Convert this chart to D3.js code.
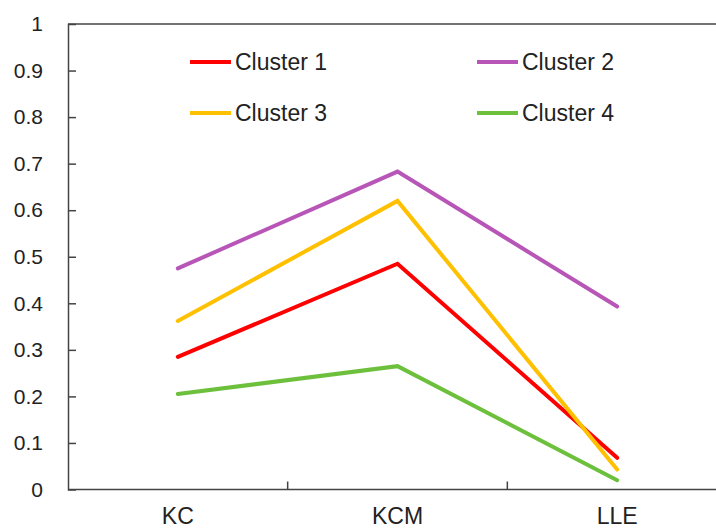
<!DOCTYPE html>
<html>
<head>
<meta charset="utf-8">
<script src="https://cdn.jsdelivr.net/npm/d3@7"></script>
<style>
  body { margin: 0; background: #fff; }
  text { font-family: "Liberation Sans", Arial, sans-serif; fill: #222; }
</style>
</head>
<body>
<svg width="716" height="530"></svg>
<script>
// chart data
var categories = ["KC", "KCM", "LLE"];
var seriesNames = ["Cluster 1", "Cluster 2", "Cluster 3", "Cluster 4"];
var cluster1 = [0.285, 0.485, 0.068];
var cluster2 = [0.475, 0.683, 0.393];
var cluster3 = [0.362, 0.620, 0.043];
var cluster4 = [0.205, 0.265, 0.020];
var yTicks = [0, 0.1, 0.2, 0.3, 0.4, 0.5, 0.6, 0.7, 0.8, 0.9, 1];

var colors = ["#ff0000", "#b856b8", "#ffc000", "#6cc03c"];
var series = [cluster1, cluster2, cluster3, cluster4];

var svg = d3.select("svg");

// plot area (the right edge runs past the picture)
var plotLeft = 68, plotRight = 727, plotTop = 24, plotBottom = 489.5;

var x = d3.scaleBand().domain(categories).range([plotLeft, plotRight]);
var y = d3.scaleLinear().domain([0, 1]).range([plotBottom, plotTop]);

// frame: top line
svg.append("line")
  .attr("x1", plotLeft).attr("x2", 716)
  .attr("y1", plotTop).attr("y2", plotTop)
  .attr("stroke", "#444").attr("stroke-width", 1.5);

// y axis with inward ticks
var yAxis = svg.append("g")
  .attr("transform", "translate(" + plotLeft + ",0)")
  .call(d3.axisLeft(y).tickValues(yTicks).tickSize(-8).tickPadding(25)
    .tickFormat(function(d) { return d === 0 || d === 1 ? d3.format("d")(d) : d3.format(".1f")(d); }));
yAxis.select(".domain").attr("stroke", "#444").attr("stroke-width", 1.5);
yAxis.selectAll(".tick line").attr("stroke", "#444").attr("stroke-width", 1.5);
yAxis.selectAll(".tick")
  .filter(function(d) { return d === 0 || d === 1; })
  .select("line").remove();
yAxis.selectAll("text")
  .attr("font-size", 21)
  .style("font-family", "Liberation Sans, Arial, sans-serif")
  .attr("fill", "#222");

// x axis: boundary ticks between categories, labels at band centers
var xAxis = svg.append("g")
  .attr("transform", "translate(0," + plotBottom + ")");
xAxis.append("line")
  .attr("x1", plotLeft).attr("x2", 716)
  .attr("stroke", "#444").attr("stroke-width", 1.5);
xAxis.selectAll(".bt")
  .data(categories.slice(1))
  .enter().append("line")
  .attr("x1", function(d) { return x(d); })
  .attr("x2", function(d) { return x(d); })
  .attr("y1", 0).attr("y2", -8)
  .attr("stroke", "#444").attr("stroke-width", 1.5);
xAxis.selectAll(".lbl")
  .data(categories)
  .enter().append("text")
  .attr("x", function(d) { return x(d) + x.bandwidth() / 2; })
  .attr("y", 34.5)
  .attr("text-anchor", "middle")
  .attr("font-size", 23)
  .text(function(d) { return d; });

// lines
var line = d3.line()
  .x(function(d, i) { return x(categories[i]) + x.bandwidth() / 2; })
  .y(function(d) { return y(d); });

series.forEach(function(s, i) {
  svg.append("path")
    .attr("d", line(s))
    .attr("fill", "none")
    .attr("stroke", colors[i])
    .attr("stroke-width", 4)
    .attr("stroke-linecap", "round")
    .attr("stroke-linejoin", "miter");
});

// legend
var legendX = [190, 477], legendY = [62, 113];
seriesNames.forEach(function(name, i) {
  var g = svg.append("g")
    .attr("transform", "translate(" + legendX[i % 2] + "," + legendY[Math.floor(i / 2)] + ")");
  g.append("line")
    .attr("x1", 0).attr("x2", 41)
    .attr("stroke", colors[i]).attr("stroke-width", 4);
  g.append("text")
    .attr("x", 45).attr("y", 8)
    .attr("font-size", 23)
    .text(name);
});
</script>
</body>
</html>
